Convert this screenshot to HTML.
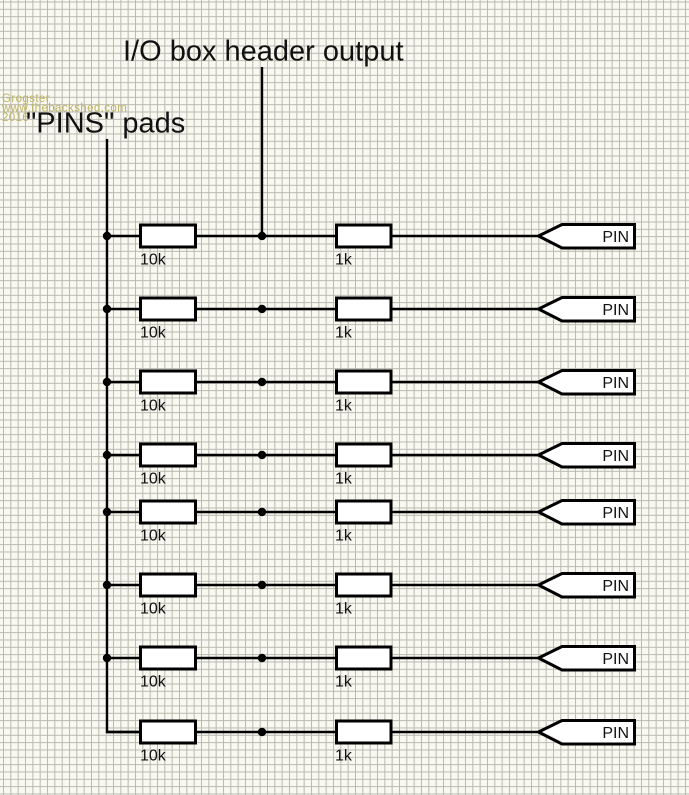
<!DOCTYPE html>
<html>
<head>
<meta charset="utf-8">
<style>
html,body{margin:0;padding:0;background:#f8f8f0;}
svg{display:block;}
text{font-family:"Liberation Sans",Arial,sans-serif;}
</style>
</head>
<body>
<svg width="689" height="795" viewBox="0 0 689 795" xmlns="http://www.w3.org/2000/svg">
<defs>
<pattern id="g" width="7.333" height="7.333" patternUnits="userSpaceOnUse" x="3" y="1.5">
<rect width="7.333" height="7.333" fill="#f9f9f1"/>
<path d="M0 0.5H7.333M0.5 0V7.333" stroke="#b9b9b0" stroke-width="1" fill="none"/>
</pattern>
<g id="row">
<line x1="107" y1="0" x2="538" y2="0" stroke="#000" stroke-width="2.4"/>
<rect x="140.5" y="-11" width="55" height="22" fill="#fff" stroke="#000" stroke-width="3"/>
<rect x="336.5" y="-11" width="54.5" height="22" fill="#fff" stroke="#000" stroke-width="3"/>
<circle cx="262" cy="0" r="4.2" fill="#000"/>
<polygon points="538.5,0 562,-11.5 634.5,-11.5 634.5,12 562,12" fill="#fff" stroke="#000" stroke-width="3" stroke-linejoin="miter"/>
<text x="629" y="6" font-size="16" text-anchor="end" fill="#111">PIN</text>
<text x="140" y="28.5" font-size="16" fill="#111">10k</text>
<text x="335" y="28.5" font-size="16" fill="#111">1k</text>
</g>
</defs>
<rect width="689" height="795" fill="url(#g)"/>

<!-- watermark -->
<g fill="#bdb463" font-size="11.5" letter-spacing="0.4">
<text x="2" y="102">Grogster</text>
<text x="2" y="111.5">www.thebackshed.com</text>
<text x="2" y="121">2016</text>
</g>

<!-- titles -->
<text x="123" y="60.5" font-size="29" fill="#111">I/O box header output</text>
<text x="26" y="132.5" font-size="29" fill="#111">"PINS" pads</text>

<!-- title line -->
<line x1="262" y1="67" x2="262" y2="236" stroke="#000" stroke-width="2.4"/>
<!-- bus -->
<polyline points="107,139 107,732 140,732" fill="none" stroke="#000" stroke-width="2.4"/>

<use href="#row" transform="translate(0,236)"/>
<use href="#row" transform="translate(0,309)"/>
<use href="#row" transform="translate(0,382)"/>
<use href="#row" transform="translate(0,455)"/>
<use href="#row" transform="translate(0,512)"/>
<use href="#row" transform="translate(0,585)"/>
<use href="#row" transform="translate(0,658)"/>
<use href="#row" transform="translate(0,732)"/>

<!-- bus junction dots (not on last row corner) -->
<g fill="#000">
<circle cx="107" cy="236" r="4.2"/>
<circle cx="107" cy="309" r="4.2"/>
<circle cx="107" cy="382" r="4.2"/>
<circle cx="107" cy="455" r="4.2"/>
<circle cx="107" cy="512" r="4.2"/>
<circle cx="107" cy="585" r="4.2"/>
<circle cx="107" cy="658" r="4.2"/>
</g>
</svg>
</body>
</html>
